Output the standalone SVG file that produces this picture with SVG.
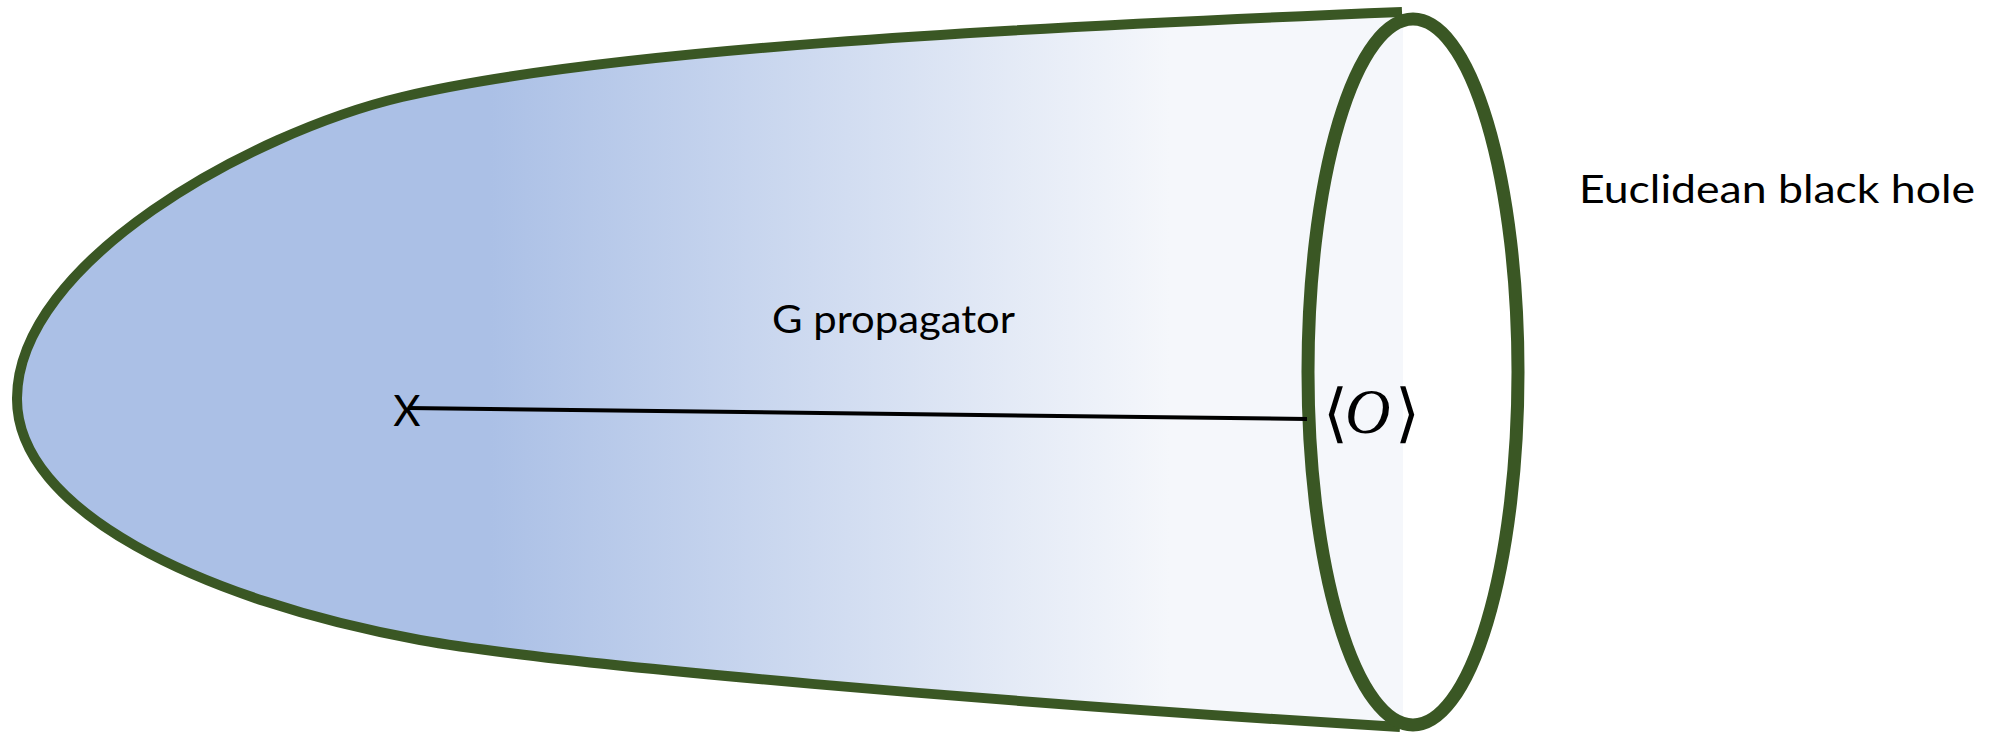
<svg xmlns="http://www.w3.org/2000/svg" width="1990" height="733" viewBox="0 0 1990 733">
  <style>
    .outline { fill: none; stroke: #3A5724; stroke-linejoin: round; }
    .label { font-family: Lato, "Open Sans", "Liberation Sans", sans-serif; fill: #000; }
    .math { font-family: "DejaVu Serif", "DejaVu Sans", serif; fill: #000; }
    .mathit { font-family: "Liberation Serif", "DejaVu Serif", serif; font-style: italic; }
    .prop { stroke: #000; stroke-width: 4; fill: none; }
  </style>
  <defs>
    <linearGradient id="bodyGrad" gradientUnits="userSpaceOnUse" x1="490" y1="0" x2="1170" y2="0">
      <stop offset="0" stop-color="#ABC0E6"/>
      <stop offset="1" stop-color="#F5F7FB"/>
    </linearGradient>
  </defs>

  <g id="body">
    <path d="M 1402 12 C 1000 28, 600 50, 402 97 C 250 133, 18 262, 17 398 C 16 510, 200 600, 420 640 C 560 665, 1000 703, 1400 727 L 1403 727 L 1403 12 Z" fill="url(#bodyGrad)" stroke="none"/>
    <path class="outline" stroke-width="10" stroke-linecap="butt" d="M 1402 12 C 1000 28, 600 50, 402 97 C 250 133, 18 262, 17 398 C 16 510, 200 600, 420 640 C 560 665, 1000 703, 1400 727"/>
  </g>

  <g id="horizon">
    <ellipse class="outline" cx="1413" cy="372" rx="105" ry="353" stroke-width="13"/>
  </g>

  <g id="connectors">
    <line class="prop" x1="408" y1="408" x2="1307" y2="419"/>
  </g>

  <g id="point-x">
    <text class="label" x="407" y="426" font-size="42" text-anchor="middle">X</text>
  </g>

  <g id="operator">
    <text class="math" x="1323" y="435" font-size="64">⟨<tspan class="mathit" x="1345" y="433" font-size="63">O</tspan><tspan x="1395" y="435">⟩</tspan></text>
  </g>

  <g id="label-propagator">
    <text class="label" x="772" y="333" font-size="39" textLength="243" lengthAdjust="spacingAndGlyphs">G propagator</text>
  </g>

  <g id="label-blackhole">
    <text class="label" x="1579" y="203" font-size="39" textLength="396" lengthAdjust="spacingAndGlyphs">Euclidean black hole</text>
  </g>
</svg>
